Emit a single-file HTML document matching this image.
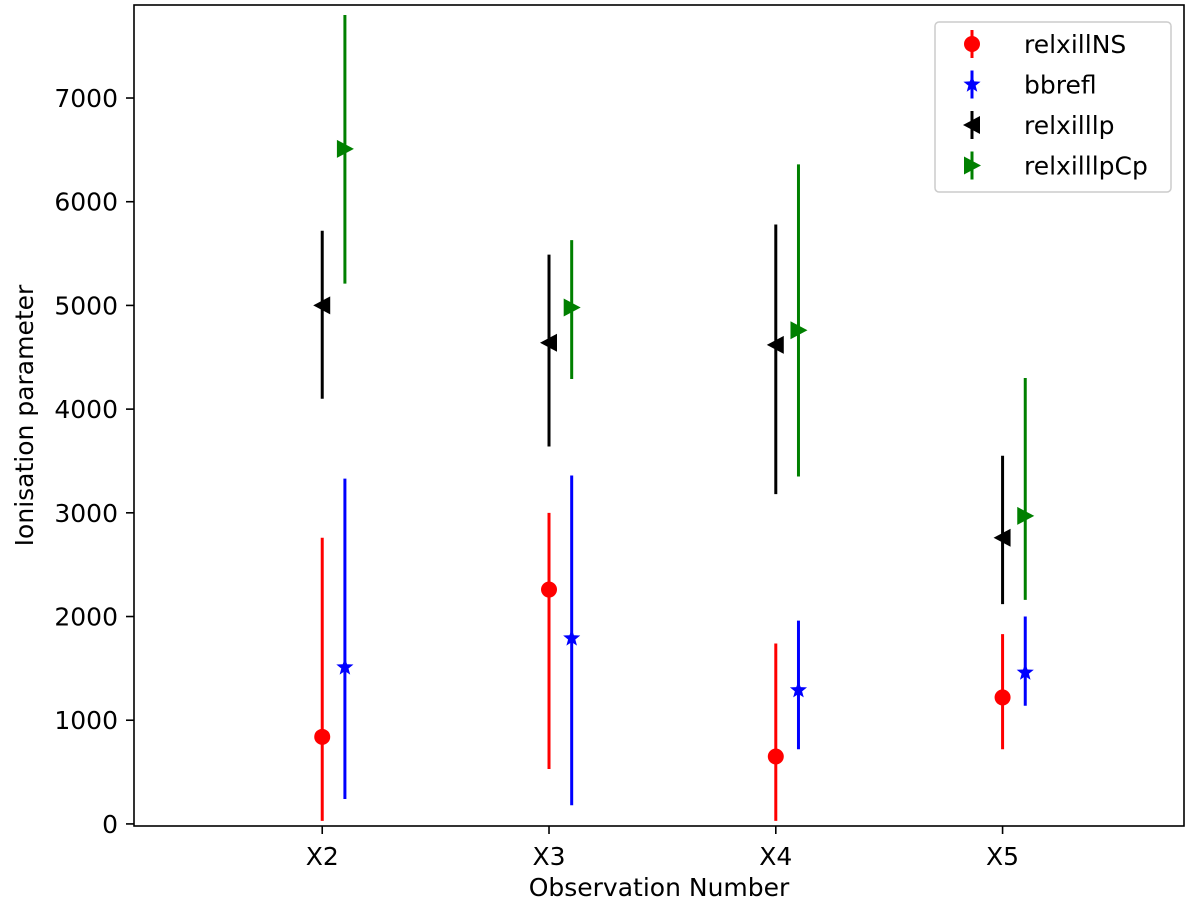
<!DOCTYPE html>
<html><head><meta charset="utf-8"><style>
body{margin:0;background:#fff;}
svg text{font-family:"DejaVu Sans","Liberation Sans",sans-serif;fill:#000;}
</style></head><body>
<svg id="chart" width="1200" height="909" xmlns="http://www.w3.org/2000/svg">
<g id="axes"></g><g id="marks"></g><g id="legend"></g>
</svg>
<script>
const categories = ["X2","X3","X4","X5"];
const seriesNames = ["relxillNS","bbrefl","relxilllp","relxilllpCp"];
const relxillNS = [840,2260,650,1220];
const relxillNSLow = [30,530,30,720];
const relxillNSHigh = [2760,3000,1740,1830];
const bbrefl = [1510,1790,1290,1460];
const bbreflLow = [240,180,720,1140];
const bbreflHigh = [3330,3360,1960,2000];
const relxilllp = [5000,4640,4620,2760];
const relxilllpLow = [4100,3640,3180,2120];
const relxilllpHigh = [5720,5490,5780,3550];
const relxilllpCp = [6510,4980,4760,2970];
const relxilllpCpLow = [5210,4290,3350,2160];
const relxilllpCpHigh = [7800,5630,6360,4300];
const yTicks = [0,1000,2000,3000,4000,5000,6000,7000];

const NS="http://www.w3.org/2000/svg";
const L=134,R=1184,T=5,B=826;
const xMin=-0.83,xMax=3.8,yMin=-20,yMax=7897;
const xs=v=>L+(v-xMin)/(xMax-xMin)*(R-L);
const ys=v=>B-(v-yMin)/(yMax-yMin)*(B-T);
function el(tag,attrs,parent){const e=document.createElementNS(NS,tag);for(const k in attrs)e.setAttribute(k,attrs[k]);parent.appendChild(e);return e;}
const axes=document.getElementById('axes'),marks=document.getElementById('marks'),legend=document.getElementById('legend');

let frame=el('rect',{x:L,y:T,width:R-L,height:B-T,fill:'none',stroke:'#000','stroke-width':1.6},axes);


yTicks.forEach(t=>{
  const y=ys(t);
  let tk=el('line',{x1:L-8,x2:L,y1:y,y2:y,stroke:'#000','stroke-width':1.6},axes);
  
  
  let tx=el('text',{x:L-16,y:y+9,'text-anchor':'end','font-size':25},axes);
  tx.textContent=t;
  
  
});
categories.forEach((c,i)=>{
  const x=xs(i);
  let tk=el('line',{x1:x,x2:x,y1:B,y2:B+8,stroke:'#000','stroke-width':1.6},axes);
  
  
  let tx=el('text',{x:x,y:B+39,'text-anchor':'middle','font-size':25},axes);
  tx.textContent=c;
  
  
});
let xt=el('text',{x:(L+R)/2,y:896,'text-anchor':'middle','font-size':25},axes);
xt.textContent='Observation Number';


let yt=el('text',{x:0,y:0,'text-anchor':'middle','font-size':25,transform:`translate(33,${(T+B)/2}) rotate(-90)`},axes);
yt.textContent='Ionisation parameter';



function marker(type,x,y,color,parent){
  let m;
  if(type==='circle') m=el('circle',{cx:x,cy:y,r:8,fill:color},parent);
  else if(type==='star'){
    let pts=[];for(let k=0;k<10;k++){const r=k%2?3.8:9,a=-Math.PI/2+k*Math.PI/5;pts.push((x+r*Math.cos(a))+','+(y+r*Math.sin(a)));}
    m=el('polygon',{points:pts.join(' '),fill:color},parent);
  } else if(type==='left') m=el('polygon',{points:`${x-9},${y} ${x+8},${y-9} ${x+8},${y+9}`,fill:color},parent);
  else m=el('polygon',{points:`${x+9},${y} ${x-8},${y-9} ${x-8},${y+9}`,fill:color},parent);
  return m;
}
const S=[
 {v:relxillNS,lo:relxillNSLow,hi:relxillNSHigh,off:0,c:'#ff0000',m:'circle'},
 {v:bbrefl,lo:bbreflLow,hi:bbreflHigh,off:0.1,c:'#0000ff',m:'star'},
 {v:relxilllp,lo:relxilllpLow,hi:relxilllpHigh,off:0,c:'#000000',m:'left'},
 {v:relxilllpCp,lo:relxilllpCpLow,hi:relxilllpCpHigh,off:0.1,c:'#008000',m:'right'}];
S.forEach((s,si)=>{
  s.v.forEach((v,i)=>{
    const x=xs(i+s.off);
    let eb=el('line',{x1:x,x2:x,y1:ys(s.lo[i]),y2:ys(s.hi[i]),stroke:s.c,'stroke-width':3},marks);
    
    
    let m=marker(s.m,x,ys(v),s.c,marks);
    
    
  });
});
let lb=el('rect',{x:935,y:22,width:236,height:170,rx:4,fill:'#fff',stroke:'#ccc','stroke-width':1.5},legend);


S.forEach((s,si)=>{
  const y=44+si*40.5,x=972;
  let ln=el('line',{x1:x,x2:x,y1:y-14,y2:y+14,stroke:s.c,'stroke-width':3},legend);
  
  
  let m=marker(s.m,x,y,s.c,legend);
  
  
  let t=el('text',{x:1024,y:y+9,'font-size':25},legend);
  t.textContent=seriesNames[si];
  
  
});
</script>
</body></html>
